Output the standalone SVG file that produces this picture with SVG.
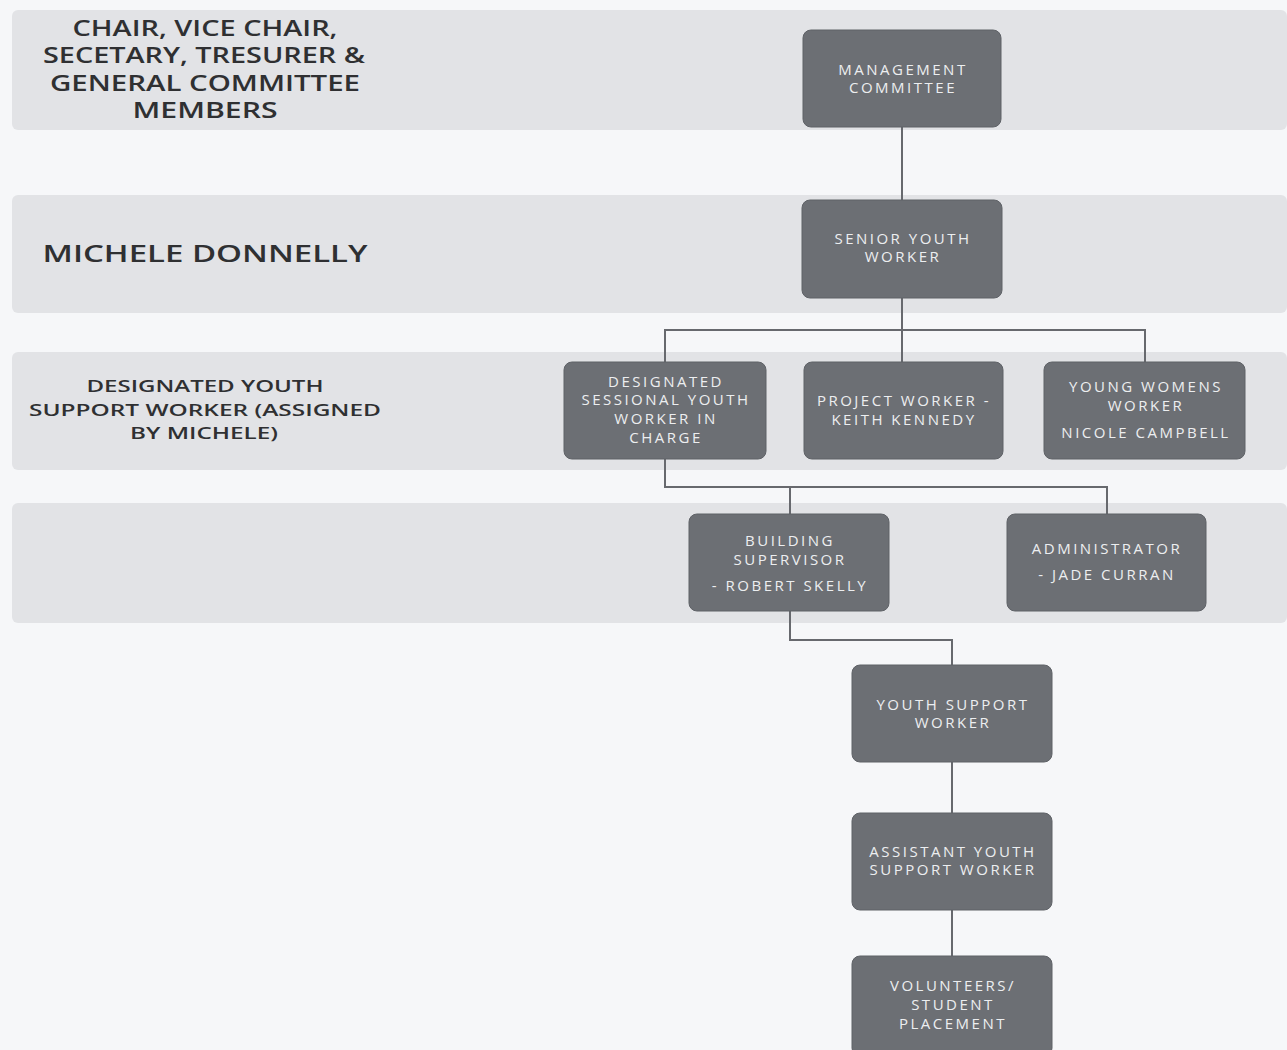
<svg xmlns="http://www.w3.org/2000/svg" width="1287" height="1050" viewBox="0 0 1287 1050">
<style>
.band{fill:#e2e3e6}
.node rect{fill:#6c6f74;stroke:#5f6267;stroke-width:1}
.node text{fill:#eceef0;font-family:"Open Sans","Liberation Sans",sans-serif;font-size:15px;letter-spacing:2.5px;text-anchor:middle;dominant-baseline:central}
.lbl{fill:#2f3032;font-family:"Open Sans","Liberation Sans",sans-serif;font-weight:600;text-anchor:middle;dominant-baseline:central}
.conn{fill:none;stroke:#67696e;stroke-width:2}
</style>
<rect width="1287" height="1050" fill="#f6f7f9"/>
<g id="bands">
<rect class="band" x="12" y="10" width="1275" height="120" rx="6"/>
<rect class="band" x="12" y="195" width="1275" height="118" rx="6"/>
<rect class="band" x="12" y="352" width="1275" height="118" rx="6"/>
<rect class="band" x="12" y="503" width="1275" height="120" rx="6"/>
</g>
<g id="labels">
<text class="lbl" font-size="21" x="205" y="28" textLength="265" lengthAdjust="spacingAndGlyphs">CHAIR, VICE CHAIR,</text>
<text class="lbl" font-size="21" x="204" y="55" textLength="322" lengthAdjust="spacingAndGlyphs">SECETARY, TRESURER &amp;</text>
<text class="lbl" font-size="21" x="205" y="83" textLength="310" lengthAdjust="spacingAndGlyphs">GENERAL COMMITTEE</text>
<text class="lbl" font-size="21" x="205" y="110" textLength="145" lengthAdjust="spacingAndGlyphs">MEMBERS</text>
<text class="lbl" font-size="23" x="205" y="253" textLength="325" lengthAdjust="spacingAndGlyphs">MICHELE DONNELLY</text>
<text class="lbl" font-size="17" x="205" y="385" textLength="237" lengthAdjust="spacingAndGlyphs">DESIGNATED YOUTH</text>
<text class="lbl" font-size="17" x="205" y="409" textLength="352" lengthAdjust="spacingAndGlyphs">SUPPORT WORKER (ASSIGNED</text>
<text class="lbl" font-size="17" x="204" y="432" textLength="148" lengthAdjust="spacingAndGlyphs">BY MICHELE)</text>
</g>
<g id="connectors">
<path class="conn" d="M902 127V200"/>
<path class="conn" d="M902 298V362M665 362V330H1145V362"/>
<path class="conn" d="M665 459V487H1107V514M790 487V514"/>
<path class="conn" d="M790 611V640H952V665"/>
<path class="conn" d="M952 762V813"/>
<path class="conn" d="M952 910V956"/>
</g>
<g id="management" class="node"><rect x="803" y="30" width="198" height="97" rx="8"/><text x="903" y="69">MANAGEMENT</text><text x="903" y="87">COMMITTEE</text></g>
<g id="senior" class="node"><rect x="802" y="200" width="200" height="98" rx="8"/><text x="903" y="238">SENIOR YOUTH</text><text x="903" y="256">WORKER</text></g>
<g id="designated" class="node"><rect x="564" y="362" width="202" height="97" rx="8"/><text x="666" y="381">DESIGNATED</text><text x="666" y="399">SESSIONAL YOUTH</text><text x="666" y="418">WORKER IN</text><text x="666" y="437">CHARGE</text></g>
<g id="project" class="node"><rect x="804" y="362" width="199" height="97" rx="8"/><text x="904" y="400">PROJECT WORKER -</text><text x="904" y="419">KEITH KENNEDY</text></g>
<g id="youngwomens" class="node"><rect x="1044" y="362" width="201" height="97" rx="8"/><text x="1146" y="386">YOUNG WOMENS</text><text x="1146" y="405">WORKER</text><text x="1146" y="432">NICOLE CAMPBELL</text></g>
<g id="building" class="node"><rect x="689" y="514" width="200" height="97" rx="8"/><text x="790" y="540">BUILDING</text><text x="790" y="559">SUPERVISOR</text><text x="790" y="585">- ROBERT SKELLY</text></g>
<g id="administrator" class="node"><rect x="1007" y="514" width="199" height="97" rx="8"/><text x="1107" y="548">ADMINISTRATOR</text><text x="1107" y="574">- JADE CURRAN</text></g>
<g id="youthsupport" class="node"><rect x="852" y="665" width="200" height="97" rx="8"/><text x="953" y="704">YOUTH SUPPORT</text><text x="953" y="722">WORKER</text></g>
<g id="assistant" class="node"><rect x="852" y="813" width="200" height="97" rx="8"/><text x="953" y="851">ASSISTANT YOUTH</text><text x="953" y="869">SUPPORT WORKER</text></g>
<g id="volunteers" class="node"><rect x="852" y="956" width="200" height="100" rx="8"/><text x="953" y="985">VOLUNTEERS/</text><text x="953" y="1004">STUDENT</text><text x="953" y="1023">PLACEMENT</text></g>
</svg>
